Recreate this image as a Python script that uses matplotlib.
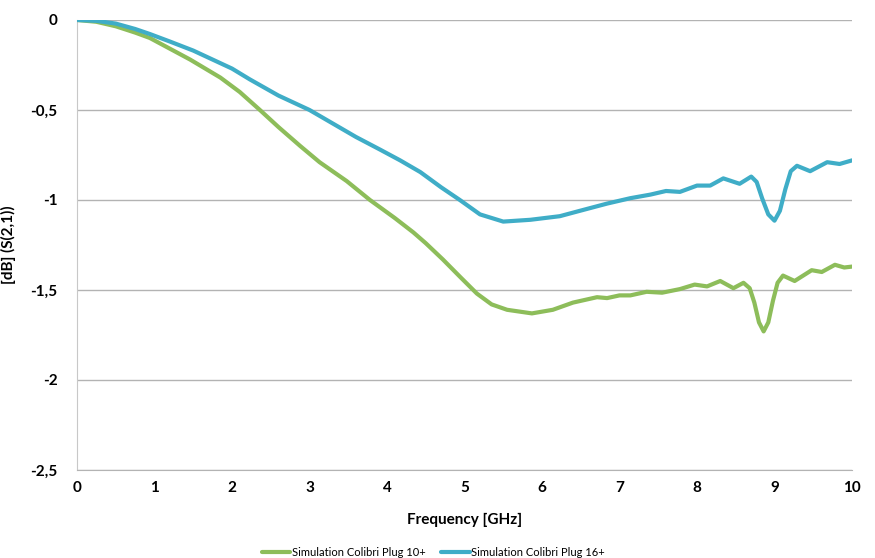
import matplotlib
matplotlib.use("Agg")
import matplotlib.pyplot as plt
from matplotlib.ticker import FuncFormatter

# Simulation Colibri Plug 10+
freq_10 = [0, 0.25, 0.5, 0.75, 0.94, 1.2, 1.46, 1.85, 2.1, 2.36, 2.6, 2.88, 3.13,
           3.48, 3.78, 4.1, 4.34, 4.5, 4.72, 4.95, 5.16, 5.35, 5.55, 5.87,
           6.14, 6.4, 6.71, 6.84, 7.0, 7.14, 7.35, 7.55, 7.78, 7.97, 8.13, 8.3,
           8.47, 8.6, 8.68, 8.74, 8.8, 8.86, 8.92, 8.98, 9.04, 9.11, 9.26, 9.48,
           9.61, 9.78, 9.9, 10]
s21_10 = [0, -0.01, -0.035, -0.07, -0.10, -0.16, -0.22, -0.32, -0.40, -0.50, -0.595,
          -0.70, -0.79, -0.895, -1.00, -1.10, -1.18, -1.24, -1.33, -1.43,
          -1.52, -1.58, -1.61, -1.63, -1.61, -1.57, -1.54, -1.545, -1.53, -1.53,
          -1.51, -1.515, -1.495, -1.47, -1.48, -1.45, -1.49, -1.46, -1.49, -1.57,
          -1.68, -1.73, -1.68, -1.56, -1.46, -1.42, -1.45, -1.39, -1.40, -1.36,
          -1.375, -1.37]

# Simulation Colibri Plug 16+
freq_16 = [0, 0.25, 0.5, 0.75, 0.94, 1.2, 1.5, 1.8, 2.0, 2.23, 2.6, 3.0, 3.3, 3.6,
           3.91, 4.17, 4.43, 4.7, 4.94, 5.2, 5.5, 5.85, 6.23, 6.49, 6.84, 7.14,
           7.4, 7.6, 7.78, 8.0, 8.17, 8.34, 8.55, 8.7, 8.77, 8.84, 8.92, 9.0,
           9.07, 9.14, 9.21, 9.29, 9.46, 9.68, 9.84, 10]
s21_16 = [0, -0.005, -0.02, -0.05, -0.078, -0.12, -0.17, -0.23, -0.27, -0.33,
          -0.42, -0.50, -0.575, -0.65, -0.72, -0.78, -0.845, -0.93, -1.00, -1.08,
          -1.12, -1.11, -1.09, -1.06, -1.02, -0.99, -0.97, -0.95, -0.955, -0.92,
          -0.92, -0.88, -0.91, -0.87, -0.90, -0.99, -1.08, -1.115, -1.06, -0.94,
          -0.84, -0.81, -0.84, -0.79, -0.80, -0.78]

GREEN = "#8dbd5a"
BLUE = "#3fadc7"
TICKFONT = dict(family="Lato", weight="bold", size=11)

fig = plt.figure(figsize=(8.75, 5.58), dpi=100)
ax = fig.add_axes([0.088, 0.1577, 0.8857, 0.8065])

ax.plot(freq_10, s21_10, color=GREEN, lw=3, solid_joinstyle="round",
        solid_capstyle="round", label="Simulation Colibri Plug 10+", zorder=3)
ax.plot(freq_16, s21_16, color=BLUE, lw=3, solid_joinstyle="round",
        solid_capstyle="round", label="Simulation Colibri Plug 16+", zorder=3)

ax.set_xlim(0, 10)
ax.set_ylim(-2.5, 0)
ax.set_xticks(range(0, 11))
ax.set_yticks([0, -0.5, -1, -1.5, -2, -2.5])
ax.yaxis.set_major_formatter(FuncFormatter(lambda v, p: f"{v:g}".replace(".", ",")))
ax.grid(axis="y", color="#b3b3b3", lw=1)
ax.set_axisbelow(True)

for s in ["top", "right"]:
    ax.spines[s].set_visible(False)
ax.spines["left"].set_color("#c8c8c8")
ax.spines["bottom"].set_color("#b3b3b3")
ax.tick_params(length=0, pad=8)
for lab in ax.get_xticklabels() + ax.get_yticklabels():
    lab.set_fontfamily(TICKFONT["family"])
    lab.set_fontweight(TICKFONT["weight"])
    lab.set_fontsize(TICKFONT["size"])
ax.tick_params(axis="y", pad=14)

ax.set_xlabel("Frequency [GHz]", fontdict=TICKFONT, labelpad=13)
ax.set_ylabel("[dB] (S(2,1))", fontdict=TICKFONT, labelpad=10)

fig.legend(loc="lower center", bbox_to_anchor=(0.495, -0.018), ncol=2, frameon=False,
           handlelength=2.6, handletextpad=0.1, columnspacing=1.4,
           prop=dict(family="Lato", size=8))

fig.savefig("out.png", dpi=100)
